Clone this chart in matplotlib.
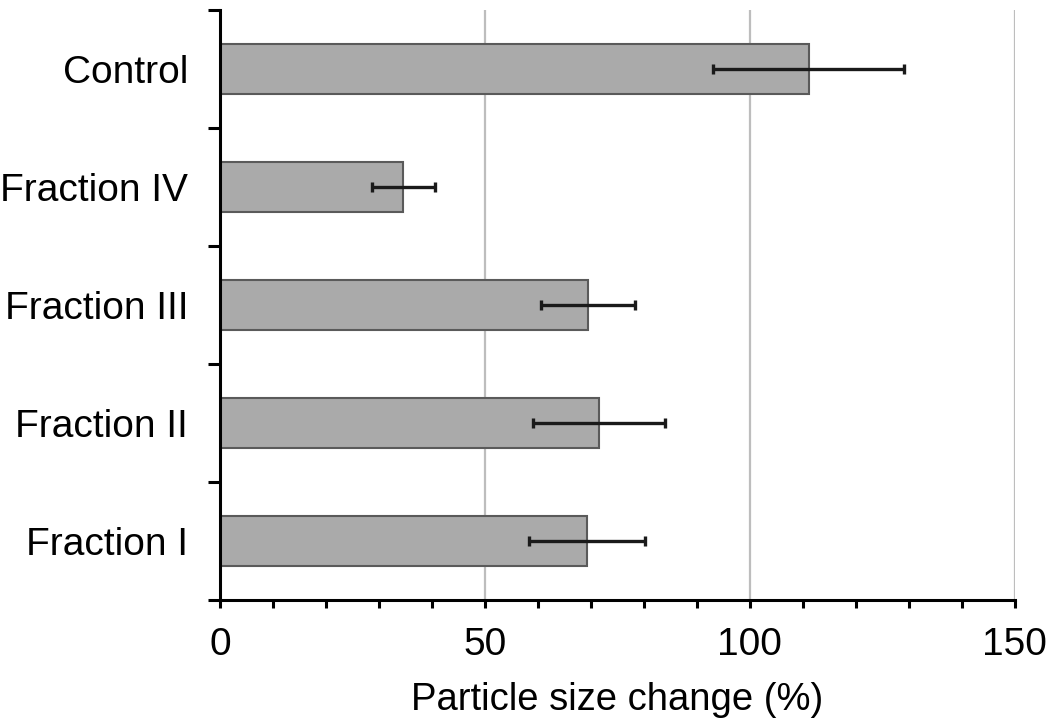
import numpy as np
from matplotlib import pyplot as plt
from matplotlib import ticker

plt.rc('font', family=['Liberation Sans', 'DejaVu Sans'])

groups = ["Fraction I", "Fraction II", "Fraction III", "Fraction IV", "Control"]
change = [69.3, 71.5, 69.5, 34.6, 111.1]
err = [10.9, 12.5, 8.9, 6.0, 18.0]

fig = plt.figure(figsize=(10.5, 7.2), dpi=100)
ax = fig.add_axes([0.2095, 0.1667, 0.757, 0.8194])

pos = np.arange(len(groups))
ax.barh(pos, change, height=0.42, color='#aaaaaa', edgecolor='#5a5a5a', linewidth=1.5, zorder=2)
ax.errorbar(change, pos, xerr=err, fmt='none', ecolor='#1a1a1a', elinewidth=2.4,
            capsize=3.6, capthick=2.4, zorder=3)

ax.set_xlim(0, 150)
ax.set_ylim(-0.5, len(groups) - 0.5)
ax.xaxis.set_major_locator(ticker.MultipleLocator(50))
ax.xaxis.set_minor_locator(ticker.MultipleLocator(10))
ax.grid(axis='x', which='major', color='#bdbdbd', linewidth=1.6, zorder=0)
ax.set_axisbelow(True)

ax.set_yticks(pos)
ax.set_yticklabels(groups)
ax.set_yticks(np.arange(len(groups) + 1) - 0.5, minor=True)

ax.tick_params(axis='y', which='major', length=0, pad=23, labelsize=28)
ax.tick_params(axis='y', which='minor', length=8.6, width=2.2, direction='out')
ax.tick_params(axis='x', which='major', length=5.8, width=2.2, direction='out', pad=14, labelsize=28)
ax.tick_params(axis='x', which='minor', length=5.8, width=2.2, direction='out')

for s in ['top', 'right']:
    ax.spines[s].set_visible(False)
for s in ['left', 'bottom']:
    ax.spines[s].set_linewidth(2.2)

ax.set_xlabel('Particle size change (%)', fontsize=27.5, labelpad=13)

plt.savefig("out.png", dpi=100)
